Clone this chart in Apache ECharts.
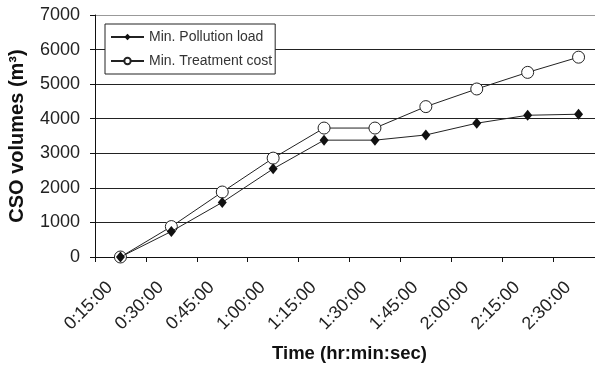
<!DOCTYPE html>
<html>
<head>
<meta charset="utf-8">
<script src="https://cdn.jsdelivr.net/npm/echarts@6/dist/echarts.min.js"></script>
<style>html,body{margin:0;padding:0;background:#fff}#c{width:595px;height:365px}</style>
</head>
<body>
<div id="c"></div>
<script>
var categories = ['0:15:00','0:30:00','0:45:00','1:00:00','1:15:00','1:30:00','1:45:00','2:00:00','2:15:00','2:30:00'];
var pollutionLoad = [0, 740, 1580, 2550, 3380, 3380, 3530, 3870, 4100, 4130];
var treatmentCost = [0, 880, 1880, 2860, 3730, 3730, 4350, 4860, 5340, 5780];
var yMin = 0, yMax = 7000, yStep = 1000;

var chart = echarts.init(document.getElementById('c'), null, {renderer: 'canvas'});
chart.setOption({
  backgroundColor: '#fff',
  animation: false,
  textStyle: {fontFamily: 'Liberation Sans, Arial, sans-serif'},
  grid: {left: 95, top: 15, width: 509, bottom: 108, containLabel: false, outerBoundsMode: 'none'},
  legend: {
    orient: 'vertical',
    left: 105, top: 24,
    backgroundColor: '#fff',
    borderColor: '#222', borderWidth: 1,
    padding: [5, 3, 5, 5],
    itemGap: 8, itemWidth: 33, itemHeight: 8,
    textStyle: {fontSize: 14, color: '#333', lineHeight: 16},
    data: ['Min. Pollution load', 'Min. Treatment cost']
  },
  xAxis: {
    type: 'category',
    data: categories,
    boundaryGap: true,
    name: 'Time (hr:min:sec)',
    nameLocation: 'middle',
    nameGap: 87,
    nameMoveOverlap: false,
    nameTextStyle: {fontSize: 18.5, fontWeight: 'bold', color: '#111'},
    axisLine: {lineStyle: {color: '#111', width: 1}},
    axisTick: {show: true, alignWithLabel: false, length: 5, lineStyle: {color: '#111'}},
    axisLabel: {rotate: 45, fontSize: 18, color: '#222', margin: 17, padding: [0, 15, 0, 0], interval: 0},
    splitLine: {show: false}
  },
  yAxis: {
    type: 'value',
    min: yMin, max: yMax, interval: yStep,
    name: 'CSO volumes (m³)',
    nameLocation: 'middle',
    nameGap: 68,
    nameMoveOverlap: false,
    nameTextStyle: {fontSize: 20, fontWeight: 'bold', color: '#111'},
    axisLine: {show: true, lineStyle: {color: '#111', width: 1}},
    axisTick: {show: true, length: 5, lineStyle: {color: '#111'}},
    axisLabel: {fontSize: 18, color: '#222', margin: 15, formatter: function (v) { return String(v); }},
    splitLine: {show: true, lineStyle: {color: ['#222','#222','#222','#222','#222','#222','#222','#999'], width: 1.2}}
  },
  series: [
    {
      name: 'Min. Pollution load',
      type: 'line',
      data: pollutionLoad,
      symbol: 'diamond',
      symbolSize: [9, 11],
      lineStyle: {color: '#222', width: 1},
      itemStyle: {color: '#111', borderColor: '#111', borderWidth: 0},
      z: 3
    },
    {
      name: 'Min. Treatment cost',
      type: 'line',
      data: treatmentCost,
      symbol: 'circle',
      symbolSize: 12,
      showAllSymbol: true,
      lineStyle: {color: '#222', width: 1},
      itemStyle: {color: '#fff', borderColor: '#222', borderWidth: 1},
      z: 2
    }
  ]
});
</script>
</body>
</html>
